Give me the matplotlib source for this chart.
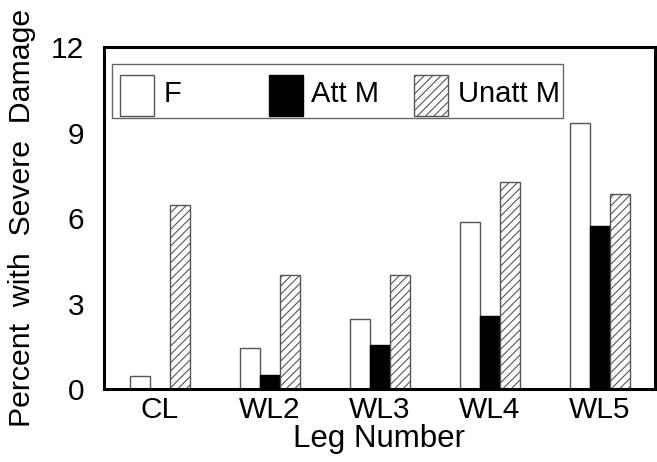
import matplotlib
matplotlib.use("Agg")
import matplotlib.pyplot as plt
import numpy as np
from matplotlib.patches import Rectangle

categories = ["CL", "WL2", "WL3", "WL4", "WL5"]
series_names = ["F", "Att M", "Unatt M"]
f_vals = [0.46, 1.44, 2.46, 5.86, 9.33]
att_vals = [0.0, 0.49, 1.54, 2.56, 5.72]
unatt_vals = [6.46, 4.0, 4.0, 7.26, 6.84]
y_ticks = [0, 3, 6, 9, 12]

plt.rcParams["font.family"] = ["Liberation Sans", "DejaVu Sans"]
plt.rcParams["hatch.linewidth"] = 0.8

fig = plt.figure(figsize=(6.57, 4.62), dpi=100)
ax = fig.add_axes([0.158, 0.158, 0.839, 0.740])

x = np.arange(len(categories))
w = 0.182
edge = "#555555"
ax.bar(x - w, f_vals, w, color="white", edgecolor=edge, linewidth=1.0)
ax.bar(x, att_vals, w, color="black", edgecolor="black", linewidth=1.0)
ax.bar(x + w, unatt_vals, w, color="white", edgecolor="#555555",
       hatch="////", linewidth=1.0)

ax.set_xlim(-0.51, 4.5)
ax.set_ylim(0, 12)
ax.set_yticks(y_ticks)
ax.set_xticks(x)
ax.set_xticklabels(categories)
ax.tick_params(axis="both", length=0, labelsize=21.5)
ax.tick_params(axis="y", pad=14)
ax.tick_params(axis="x", pad=5)
for s in ax.spines.values():
    s.set_linewidth(2.2)
    s.set_color("black")

ax.set_xlabel("Leg Number", fontsize=22.5, labelpad=0)
ax.set_ylabel("Percent  with  Severe  Damage", fontsize=21.8, labelpad=11)

# legend drawn by hand so the columns sit at fixed positions
ax.add_patch(Rectangle((0.0145, 0.792), 0.819, 0.158, transform=ax.transAxes,
                       facecolor="white", edgecolor="#666666", linewidth=1.0,
                       zorder=5))
styles = [
    dict(facecolor="white", edgecolor=edge),
    dict(facecolor="black", edgecolor="black"),
    dict(facecolor="white", edgecolor="#555555", hatch="////"),
]
hx = [0.029, 0.299, 0.563]
tx = [0.109, 0.375, 0.643]
for name, st, h0, t0 in zip(series_names, styles, hx, tx):
    ax.add_patch(Rectangle((h0, 0.798), 0.062, 0.12, transform=ax.transAxes,
                           linewidth=1.0, zorder=6, **st))
    ax.text(t0, 0.839, name, transform=ax.transAxes, fontsize=21,
            va="baseline", ha="left", zorder=6)

fig.savefig("out.png", dpi=100)
